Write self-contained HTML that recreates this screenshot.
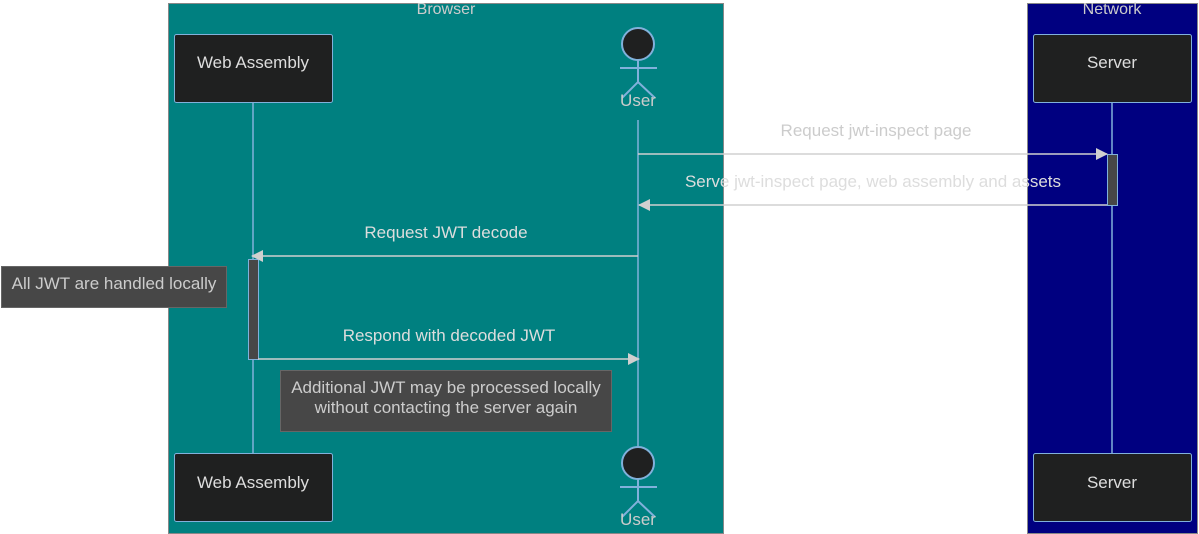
<!DOCTYPE html>
<html><head><style>body{margin:0;background:#fff}svg{display:block;font-family:"Liberation Sans",sans-serif}</style></head><body>
<svg width="1199" height="534" viewBox="0 0 1199 534">
<defs><marker id="a" markerWidth="12" markerHeight="12" refX="11" refY="6" orient="auto" markerUnits="userSpaceOnUse"><path d="M0,0 L12,6 L0,12 z" fill="#d0d0d0"/></marker></defs>
<rect x="168.5" y="3.5" width="555" height="530" fill="#008080" stroke="#888"/>
<rect x="1027.5" y="3.5" width="170" height="530" fill="#000080" stroke="#888"/>
<text x="446" y="14" font-size="16" fill="#ccc" text-anchor="middle">Browser</text>
<text x="1112" y="14" font-size="16" fill="#ccc" text-anchor="middle">Network</text>
<g stroke="#81b1db" stroke-width="1.5">
<line x1="253" y1="103" x2="253" y2="453"/>
<line x1="638" y1="120" x2="638" y2="448"/>
<line x1="1112" y1="103" x2="1112" y2="453"/>
</g>
<g fill="#1f2020" stroke="#81b1db">
<rect x="174.5" y="34.5" width="158" height="68" rx="2"/>
<rect x="174.5" y="453.5" width="158" height="68" rx="2"/>
<rect x="1033.5" y="34.5" width="158" height="68" rx="2"/>
<rect x="1033.5" y="453.5" width="158" height="68" rx="2"/>
</g>
<g font-size="17" fill="#ddd" text-anchor="middle">
<text x="253" y="68">Web Assembly</text>
<text x="253" y="488">Web Assembly</text>
<text x="1112" y="68">Server</text>
<text x="1112" y="488">Server</text>
</g>
<g stroke="#81b1db" stroke-width="2" fill="none">
<circle cx="638" cy="44" r="16" fill="#1f2020"/>
<line x1="638" y1="60" x2="638" y2="82"/><line x1="620" y1="68" x2="657" y2="68"/>
<path d="M622,98 L638,82 L655,98"/>
<circle cx="638" cy="463" r="16" fill="#1f2020"/>
<line x1="638" y1="479" x2="638" y2="501"/><line x1="620" y1="487" x2="657" y2="487"/>
<path d="M622,517 L638,501 L655,517"/>
</g>
<text x="638" y="106" font-size="17" fill="#ccc" text-anchor="middle">User</text>
<text x="638" y="525" font-size="17" fill="#ccc" text-anchor="middle">User</text>
<rect x="1107.5" y="154.5" width="10" height="51" fill="#474747" stroke="#81b1db"/>
<rect x="248.5" y="259.5" width="10" height="100" fill="#474747" stroke="#81b1db"/>
<g stroke="#d0d0d0" stroke-width="1.5" marker-end="url(#a)">
<line x1="638" y1="154" x2="1107" y2="154"/>
<line x1="1107" y1="205" x2="639" y2="205"/>
<line x1="638" y1="256" x2="252" y2="256"/>
<line x1="258" y1="359" x2="639" y2="359"/>
</g>
<g font-size="17" text-anchor="middle">
<text x="876" y="136" fill="#ccc">Request jwt-inspect page</text>
<text x="873" y="187" fill="#ddd">Serve jwt-inspect page, web assembly and assets</text>
<text x="446" y="238" fill="#ddd">Request JWT decode</text>
<text x="449" y="341" fill="#ddd">Respond with decoded JWT</text>
</g>
<rect x="1.5" y="266.5" width="225" height="41" fill="#474747" stroke="#666"/>
<text x="114" y="289" font-size="17" fill="#ccc" text-anchor="middle">All JWT are handled locally</text>
<rect x="280.5" y="370.5" width="331" height="61" fill="#474747" stroke="#666"/>
<text x="446" y="393" font-size="17" fill="#ccc" text-anchor="middle">Additional JWT may be processed locally</text>
<text x="446" y="413" font-size="17" fill="#ccc" text-anchor="middle">without contacting the server again</text>
</svg>
</body></html>
